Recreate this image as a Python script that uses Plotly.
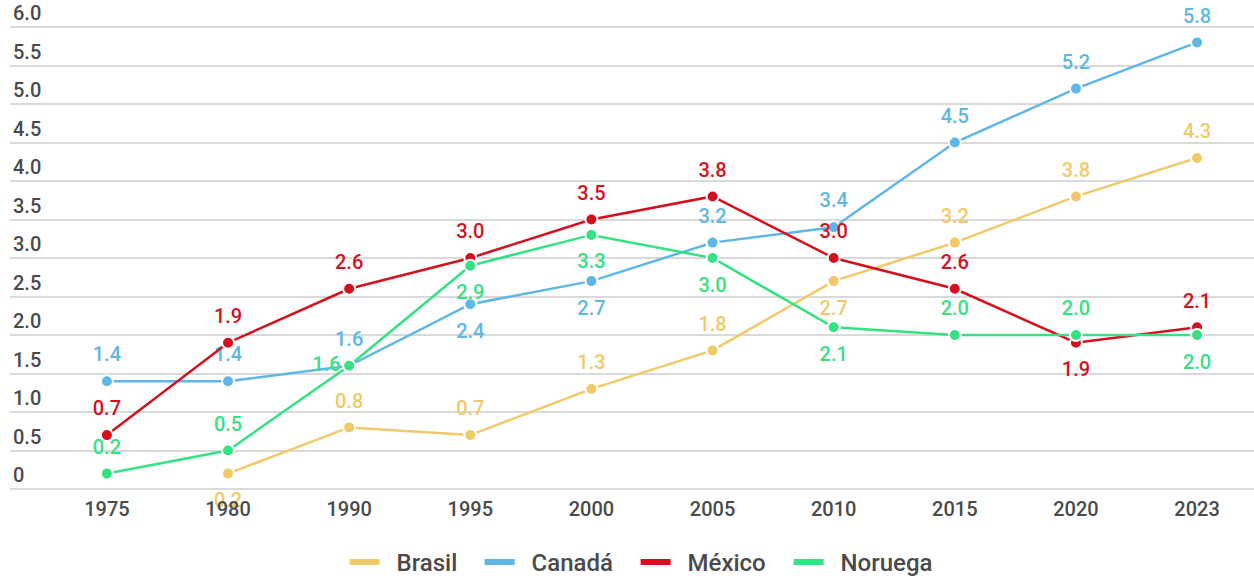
import plotly.graph_objects as go

years = ["1975", "1980", "1990", "1995", "2000", "2005", "2010", "2015", "2020", "2023"]
series_names = ["Brasil", "Canadá", "México", "Noruega"]
brasil = [None, 0.2, 0.8, 0.7, 1.3, 1.8, 2.7, 3.2, 3.8, 4.3]
canada = [1.4, 1.4, 1.6, 2.4, 2.7, 3.2, 3.4, 4.5, 5.2, 5.8]
mexico = [0.7, 1.9, 2.6, 3.0, 3.5, 3.8, 3.0, 2.6, 1.9, 2.1]
noruega = [0.2, 0.5, 1.6, 2.9, 3.3, 3.0, 2.1, 2.0, 2.0, 2.0]
y_ticks = [0, 0.5, 1, 1.5, 2, 2.5, 3, 3.5, 4, 4.5, 5, 5.5, 6]
y_tick_labels = ["0", "0.5", "1.0", "1.5", "2.0", "2.5", "3.0", "3.5", "4.0", "4.5", "5.0", "5.5", "6.0"]

T, B, L = "top center", "bottom center", "middle left"
positions = {
    "Brasil": [T, B, T, T, T, T, B, T, T, T],
    "Canadá": [T, T, T, B, B, T, T, T, T, T],
    "México": [T, T, T, T, T, T, T, T, B, T],
    "Noruega": [T, T, L, B, B, B, B, T, T, B],
}
colors = {"Brasil": "#F0CA69", "Canadá": "#5EB7E5", "México": "#D5101E", "Noruega": "#35E283"}
values = {"Brasil": brasil, "Canadá": canada, "México": mexico, "Noruega": noruega}
# spacer size (invisible marker) controlling label distance from the point
label_pad = {T: 22, B: 28, L: 12}
legend_widths = {"Brasil": 90, "Canadá": 111, "México": 108, "Noruega": 100}
LEGEND_PAD = "\u00a0\u00a0"

TXT = "#4a4a4a"
fig = go.Figure()
# legend-only entries (plain thick line sample)
for name in series_names:
    fig.add_trace(go.Scatter(
        x=[None], y=[None], name=LEGEND_PAD + name, mode="lines", legendgroup=name,
        line=dict(color=colors[name], width=6), showlegend=True, hoverinfo="skip",
        legendwidth=legend_widths[name],
    ))
for name in series_names:
    vals = values[name]
    fig.add_trace(go.Scatter(
        x=years, y=vals, name=name, mode="lines+markers", legendgroup=name,
        showlegend=False,
        line=dict(color=colors[name], width=2.5),
        marker=dict(size=12, color=colors[name], line=dict(color="white", width=2)),
        cliponaxis=False, connectgaps=False,
    ))
    fig.add_trace(go.Scatter(
        x=years, y=vals, name=name, mode="markers+text", legendgroup=name,
        showlegend=False,
        text=[("" if v is None else f"{v:.1f}") for v in vals],
        textposition=positions[name],
        textfont=dict(family="Roboto", size=20, color=colors[name], weight=500),
        marker=dict(size=[label_pad[p] for p in positions[name]], opacity=0),
        cliponaxis=False,
    ))

fig.update_layout(
    width=1254, height=578,
    margin=dict(l=10, r=0, t=0, b=87),
    paper_bgcolor="white", plot_bgcolor="white",
    font=dict(family="Roboto", color=TXT),
    showlegend=True,
    legend=dict(orientation="h", x=0.269, xanchor="left", yref="container",
                y=0.027, yanchor="middle",
                font=dict(size=24, color=TXT, weight=500), itemwidth=30),
    hovermode=False,
)
fig.update_xaxes(type="category", range=[-0.8, 9.47], showgrid=False, zeroline=False,
                 showline=False, ticks="outside", ticklen=0, tickcolor="rgba(0,0,0,0)",
                 tickfont=dict(size=20, color=TXT, weight=500))
fig.update_yaxes(range=[-0.026, 6.351], tickvals=y_ticks, ticktext=y_tick_labels,
                 ticklabelposition="inside top", showgrid=True, gridcolor="#d9d9d9",
                 gridwidth=1.5, zeroline=False, showline=False,
                 tickfont=dict(size=20, color=TXT, weight=500))

fig.write_html("out.html")
